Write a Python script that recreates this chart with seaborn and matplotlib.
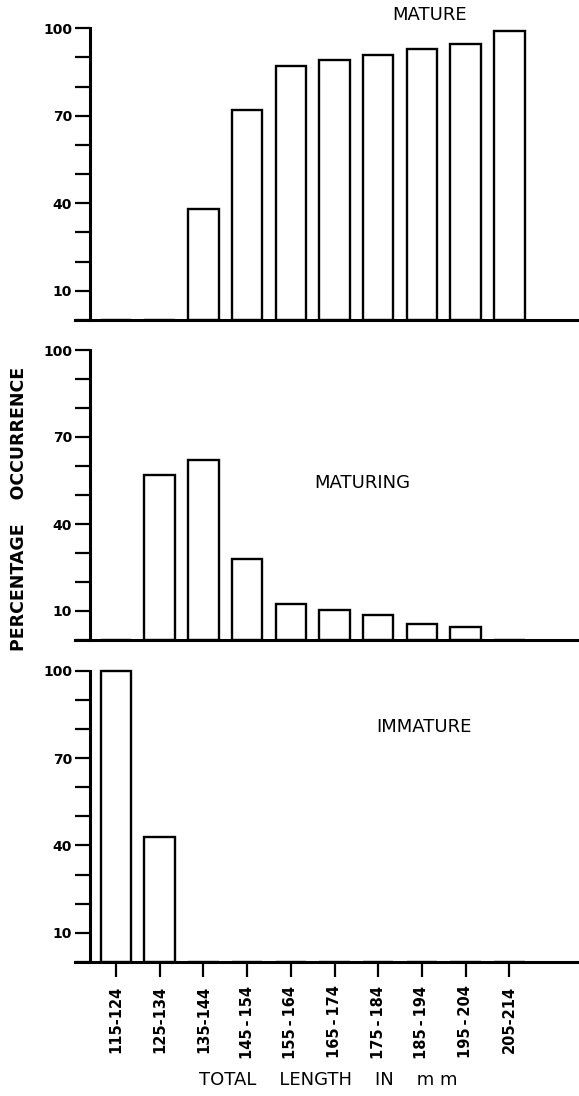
"""Percentage occurrence of maturity stages by total length class."""

import matplotlib
matplotlib.use("Agg")
import matplotlib.pyplot as plt
from matplotlib.ticker import FixedLocator, MultipleLocator
import pandas as pd
import seaborn as sns

length_classes = ["115-124", "125-134", "135-144", "145\u2009-\u2009154", "155\u2009-\u2009164",
                  "165\u2009-\u2009174", "175\u2009-\u2009184", "185\u2009-\u2009194",
                  "195\u2009-\u2009204", "205-214"]
mature_pct = [0, 0, 38, 72, 87, 89, 91, 93, 94.5, 99]
maturing_pct = [0, 57, 62, 28, 12.5, 10.5, 8.5, 5.5, 4.5, 0]
immature_pct = [100, 43, 0, 0, 0, 0, 0, 0, 0, 0]

stages = ["MATURE", "MATURING", "IMMATURE"]
stage_values = [mature_pct, maturing_pct, immature_pct]

W, H = 579, 1096
sns.set_style("ticks", {"axes.edgecolor": "black", "xtick.color": "black",
                        "ytick.color": "black", "text.color": "black",
                        "axes.labelcolor": "black"})
plt.rcParams["font.family"] = ["DejaVu Sans"]

fig = plt.figure(figsize=(W / 100, H / 100), dpi=100)

# axes boxes in pixels: (y of 0, y of 100)
panel_px = [(320, 28.3), (640, 350), (962, 670.7)]
title_px = [(430, 15.5), (362, 483), (424, 727)]
x0_px, dx_px = 116, 43.7
left_px, right_px, spine_px = 75, 579, 90

for i, (stage, vals) in enumerate(zip(stages, stage_values)):
    y0, y100 = panel_px[i]
    ax = fig.add_axes([left_px / W, 1 - y0 / H, (right_px - left_px) / W, (y0 - y100) / H])
    df = pd.DataFrame({"length": length_classes, "pct": vals})
    sns.barplot(data=df, x="length", y="pct", order=length_classes, ax=ax,
                color="white", saturation=1, edgecolor="black", linewidth=1.7, width=0.7)
    for p in ax.patches:
        p.set_clip_on(False)

    ax.set_xlim((left_px - x0_px) / dx_px, (right_px - x0_px) / dx_px)
    ax.set_ylim(0, 100)
    ax.spines[["top", "right"]].set_visible(False)
    ax.spines["left"].set_position(("data", (spine_px - x0_px) / dx_px))
    for s in ("left", "bottom"):
        ax.spines[s].set_linewidth(2.2)

    ax.yaxis.set_major_locator(FixedLocator([10, 40, 70, 100]))
    ax.yaxis.set_minor_locator(MultipleLocator(10))
    ax.tick_params(axis="y", which="both", left=True, direction="out", length=11,
                   width=1.6, labelsize=10, pad=2, colors="black")
    for lab in ax.get_yticklabels():
        lab.set_fontweight("bold")
    ax.set_ylabel("")
    ax.set_xlabel("")

    if i < 2:
        ax.tick_params(axis="x", which="both", bottom=False, labelbottom=False)
    else:
        ax.tick_params(axis="x", bottom=True, direction="out", length=11, width=1.6, pad=6,
                       labelsize=10.5, labelrotation=90, colors="black")
        for lab in ax.get_xticklabels():
            lab.set_fontweight("bold")

    tx, ty = title_px[i]
    fig.text(tx / W, 1 - ty / H, stage, ha="center", va="center", fontsize=13)

fig.text(19 / W, 1 - 509 / H, "PERCENTAGE    OCCURRENCE", rotation=90,
         ha="center", va="center", fontsize=12.5, fontweight="bold")
fig.text(328 / W, 1 - 1080 / H, "TOTAL    LENGTH    IN    m m",
         ha="center", va="center", fontsize=13)

fig.savefig("out.png", dpi=100)
